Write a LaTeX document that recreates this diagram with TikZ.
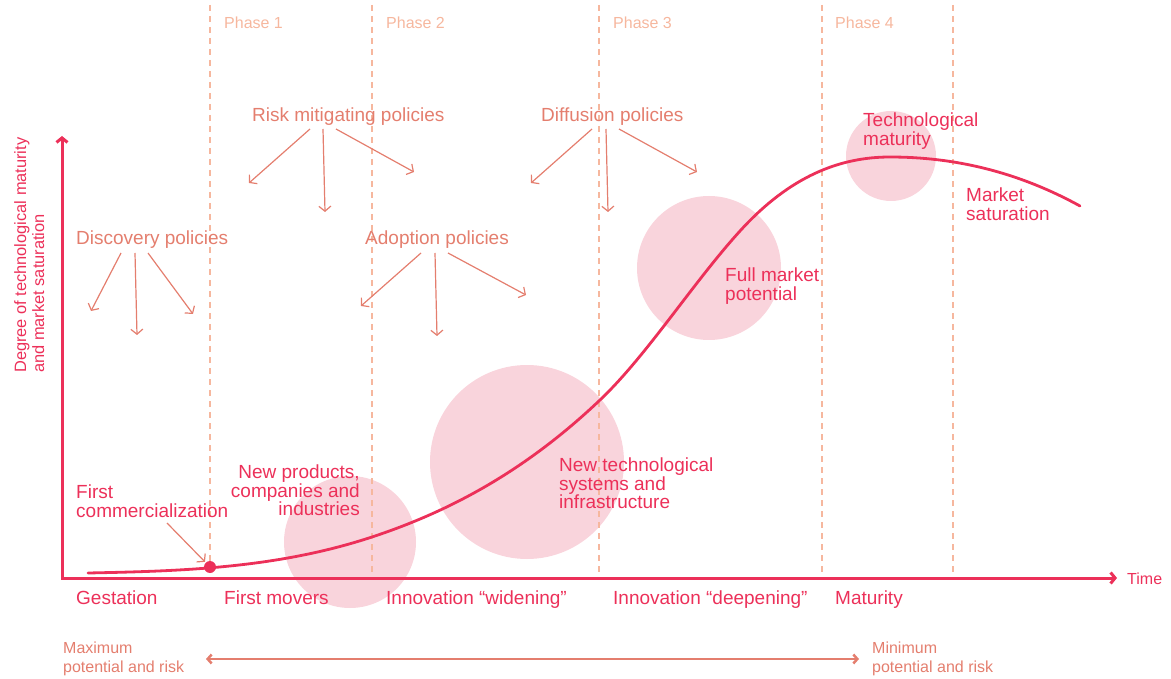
\documentclass[tikz,border=0pt]{standalone}
\usepackage{fontspec}
\setmainfont{Liberation Sans}
\usetikzlibrary{arrows.meta}
\definecolor{crim}{HTML}{EC3059}
\definecolor{salm}{HTML}{E47E6E}
\definecolor{peach}{HTML}{F6B79E}
\definecolor{pinkfill}{HTML}{F9D4DC}
\begin{document}
\begin{tikzpicture}[x=1pt,y=-1pt,
  big/.style={font=\fontsize{19}{18.5}\selectfont, inner sep=0pt},
  small/.style={font=\fontsize{16}{19}\selectfont, inner sep=0pt},
  lbl/.style={big, text=crim},
  pol/.style={big, text=salm, anchor=base west},
  phase/.style={small, text=peach, anchor=base west},
  polarrow/.style={draw=salm, line width=1.2pt, -{Straight Barb[length=5pt,width=12pt]}},
  divider/.style={draw=peach, line width=1.2pt, dash pattern=on 6pt off 5pt},
  bubble/.style={circle, fill=pinkfill, inner sep=0pt, draw=none},
  axisline/.style={draw=crim, line width=3pt, line join=miter},
]
\useasboundingbox (0,0) rectangle (1171,679);

% bubbles
\node[bubble, minimum size=132pt] (b1) at (350,542) {};
\node[bubble, minimum size=194pt] (b2) at (527,462) {};
\node[bubble, minimum size=144pt] (b3) at (709,268) {};
\node[bubble, minimum size=90pt]  (b4) at (891,156) {};

% phase dividers
\foreach \xx in {210,372,599,822,953}
  \draw[divider] (\xx,5) -- (\xx,578);

% phase labels
\node[phase] (ph1) at (224,29) {Phase 1};
\node[phase] (ph2) at (386,29) {Phase 2};
\node[phase] (ph3) at (613,29) {Phase 3};
\node[phase] (ph4) at (835,29) {Phase 4};

% axes
\coordinate (ytop) at (62,136);
\coordinate (orig) at (62,578);
\coordinate (xend) at (1117,578);
\draw[axisline, {Straight Barb[length=4.5pt,width=11pt]}-{Straight Barb[length=4.5pt,width=11pt]}] (ytop) -- (orig) -- (xend);
\node[small, text=crim, anchor=base west] (time) at (1127,584) {Time};
\node[font=\fontsize{16.4}{18}\selectfont, inner sep=0pt, text=crim, rotate=90, anchor=north west, align=left] (ylab) at (14,373) {Degree of technological maturity\\and market saturation};

% curve
\draw[crim, line width=2.8pt, line cap=round]
  (88,573) .. controls (182.7,571.1) and (277.3,568.2) .. (372,537)
  .. controls (448,511.9) and (524,472.2) .. (600,400)
  .. controls (646.7,355.7) and (693.3,282.3) .. (740,231)
  .. controls (790,176) and (840,157) .. (890,157)
  .. controls (953.3,157) and (1016.7,171.2) .. (1080,206);
\node[circle, fill=crim, minimum size=12pt, inner sep=0pt] (fcdot) at (210,567) {};

% curve labels
\node[lbl, anchor=north west, align=left] (fc) at (76,485) {First\\commercialization};
\coordinate (fcstart) at (167,523);
\draw[polarrow, shorten >=1pt] (fcstart) -- (fcdot);
\node[lbl, anchor=north east, align=right] (np) at (360,465) {New products,\\companies and\\industries};
\node[lbl, anchor=north west, align=left] (nt) at (559,458) {New technological\\systems and\\infrastructure};
\node[lbl, anchor=north west, align=left] (fm) at (725,268) {Full market\\potential};
\node[lbl, anchor=north west, align=left] (tm) at (863,113) {Technological\\maturity};
\node[lbl, anchor=north west, align=left] (ms) at (966,188) {Market\\saturation};

% stage labels
\node[lbl, anchor=base west] (st1) at (76,604) {Gestation};
\node[lbl, anchor=base west] (st2) at (224,604) {First movers};
\node[lbl, anchor=base west] (st3) at (386,604) {Innovation “widening”};
\node[lbl, anchor=base west] (st4) at (613,604) {Innovation “deepening”};
\node[lbl, anchor=base west] (st5) at (835,604) {Maturity};

% policies
\node[pol] (disc) at (76,245) {Discovery policies};
\coordinate (d1) at (91,311); \coordinate (d2) at (137,335); \coordinate (d3) at (193,314);
\draw[polarrow] ([shift={(45,8)}]disc.base west) -- (d1);
\draw[polarrow] ([shift={(59,8)}]disc.base west) -- (d2);
\draw[polarrow] ([shift={(72,8)}]disc.base west) -- (d3);

\node[pol] (risk) at (252,122) {Risk mitigating policies};
\coordinate (r1) at (249,183); \coordinate (r2) at (325,212); \coordinate (r3) at (414,172);
\draw[polarrow] ([shift={(58,7)}]risk.base west) -- (r1);
\draw[polarrow] ([shift={(71,7)}]risk.base west) -- (r2);
\draw[polarrow] ([shift={(84,7)}]risk.base west) -- (r3);

\node[pol] (adop) at (365,245) {Adoption policies};
\coordinate (a1) at (361,306); \coordinate (a2) at (437,336); \coordinate (a3) at (526,295);
\draw[polarrow] ([shift={(56,8)}]adop.base west) -- (a1);
\draw[polarrow] ([shift={(70,8)}]adop.base west) -- (a2);
\draw[polarrow] ([shift={(83,8)}]adop.base west) -- (a3);

\node[pol] (diff) at (541,122) {Diffusion policies};
\coordinate (f1) at (531,183); \coordinate (f2) at (608,212); \coordinate (f3) at (697,172);
\draw[polarrow] ([shift={(51,7)}]diff.base west) -- (f1);
\draw[polarrow] ([shift={(65,7)}]diff.base west) -- (f2);
\draw[polarrow] ([shift={(78,7)}]diff.base west) -- (f3);

% bottom range
\node[small, text=salm, anchor=north west, align=left] (maxr) at (63,642) {Maximum\\potential and risk};
\node[small, text=salm, anchor=north west, align=left] (minr) at (872,642) {Minimum\\potential and risk};
\coordinate (rl) at (206,659);
\coordinate (rr) at (859,659);
\draw[draw=salm, line width=2.5pt, {Straight Barb[length=4pt,width=9pt]}-{Straight Barb[length=4pt,width=9pt]}] (rl) -- (rr);
\end{tikzpicture}
\end{document}
